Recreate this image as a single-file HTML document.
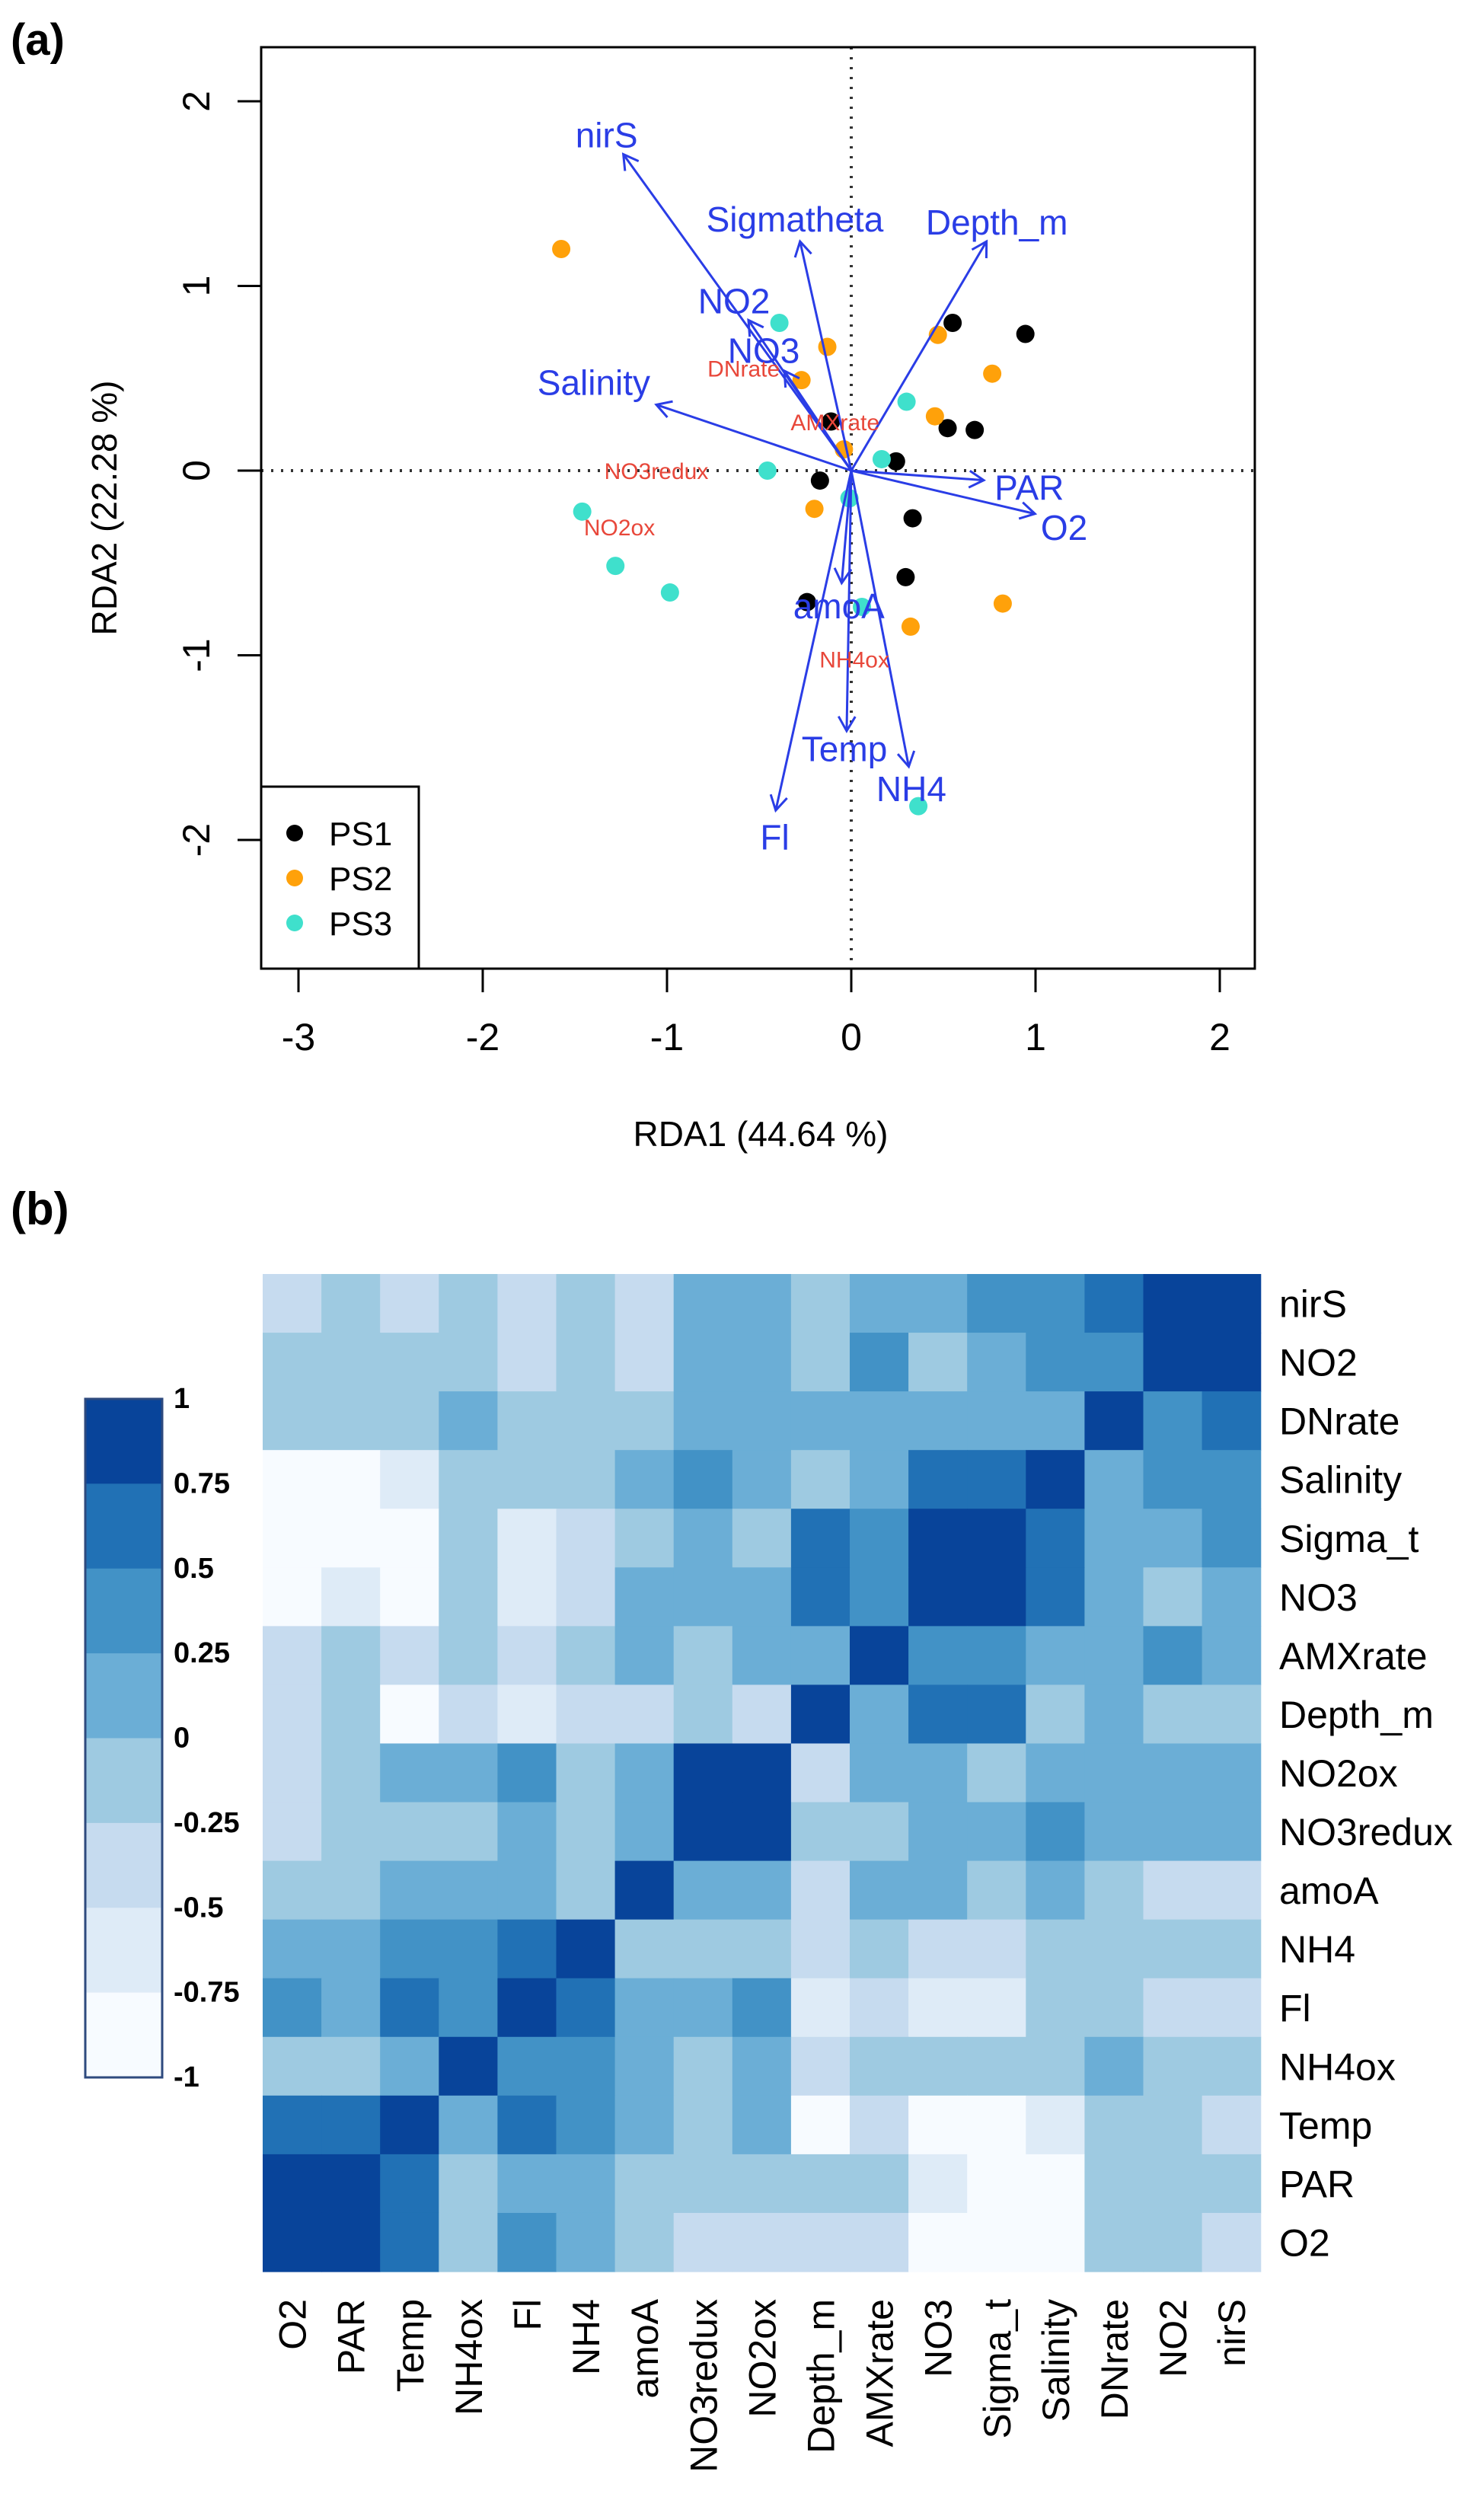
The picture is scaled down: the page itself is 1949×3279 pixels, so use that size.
<!DOCTYPE html>
<html><head><meta charset="utf-8"><title>RDA biplot and correlation heatmap</title>
<style>
html,body{margin:0;padding:0;background:#fff;}
svg{display:block;font-family:"Liberation Sans",Arial,sans-serif;}
</style></head>
<body>
<svg id="fig" xmlns="http://www.w3.org/2000/svg" width="1949" height="3279" viewBox="0 0 1949 3279">
<rect x="0" y="0" width="1949" height="3279" fill="#fff"/>
<text x="14" y="72" font-size="58" font-weight="bold">(a)</text>
<text x="14" y="1608" font-size="60" font-weight="bold">(b)</text>
<g id="rda"></g>
<g id="heat"></g>
</svg>
<script>
// ---------- RDA data ----------
const ps1X = [0.55, 0.945, -0.11, 0.523, 0.67, 0.243, -0.17, 0.333, 0.295, -0.24];
const ps1Y = [0.80, 0.74, 0.266, 0.23, 0.22, 0.05, -0.054, -0.258, -0.577, -0.712];
const ps2X = [-1.574, 0.47, -0.13, -0.27, 0.765, 0.454, -0.04, -0.2, 0.822, 0.322];
const ps2Y = [1.20, 0.735, 0.67, 0.49, 0.525, 0.294, 0.115, -0.207, -0.72, -0.845];
const ps3X = [-0.39, 0.30, 0.165, -0.455, -0.01, -1.46, -1.28, -0.984, 0.058, 0.364];
const ps3Y = [0.80, 0.373, 0.062, 0.0, -0.15, -0.222, -0.516, -0.66, -0.738, -1.817];
const arrowNames = ["nirS","Sigmatheta","Depth_m","NO2","NO3","Salinity","PAR","O2","amoA","Temp","NH4","Fl"];
const arrowX = [-1.237, -0.278, 0.734, -0.558, -0.363, -1.058, 0.719, 0.997, -0.052, -0.025, 0.312, -0.41];
const arrowY = [1.713, 1.241, 1.241, 0.815, 0.54, 0.357, -0.052, -0.234, -0.609, -1.41, -1.603, -1.84];
const labelX = [-1.328, -0.306, 0.79, -0.636, -0.475, -1.397, 0.966, 1.155, -0.067, -0.037, 0.326, -0.415];
const labelY = [1.817, 1.36, 1.345, 0.918, 0.65, 0.476, -0.093, -0.31, -0.734, -1.507, -1.724, -1.986];
const rateNames = ["DNrate","AMXrate","NO3redux","NO2ox","NH4ox"];
const rateX = [-0.584, -0.088, -1.058, -1.258, 0.017];
const rateY = [0.554, 0.264, 0.0, -0.305, -1.02];
const xTicks = [-3,-2,-1,0,1,2];
const yTicks = [-2,-1,0,1,2];

// ---------- heatmap data ----------
const heatVars = ["nirS","NO2","DNrate","Salinity","Sigma_t","NO3","AMXrate","Depth_m","NO2ox","NO3redux","amoA","NH4","Fl","NH4ox","Temp","PAR","O2"];
const heatCols = ["O2","PAR","Temp","NH4ox","Fl","NH4","amoA","NO3redux","NO2ox","Depth_m","AMXrate","NO3","Sigma_t","Salinity","DNrate","NO2","nirS"];
const heatCorr = [
 [-0.4,-0.1,-0.4,-0.1,-0.4,-0.1,-0.4,0.1,0.1,-0.1,0.1,0.1,0.4,0.4,0.6,0.9,1.0],
 [-0.1,-0.1,-0.1,-0.1,-0.4,-0.1,-0.4,0.1,0.1,-0.1,0.4,-0.1,0.1,0.4,0.4,1.0,0.9],
 [-0.1,-0.1,-0.1,0.1,-0.1,-0.1,-0.1,0.1,0.1,0.1,0.1,0.1,0.1,0.1,1.0,0.4,0.6],
 [-0.9,-0.9,-0.6,-0.1,-0.1,-0.1,0.1,0.4,0.1,-0.1,0.1,0.6,0.6,1.0,0.1,0.4,0.4],
 [-0.9,-0.9,-0.9,-0.1,-0.6,-0.4,-0.1,0.1,-0.1,0.6,0.4,0.9,1.0,0.6,0.1,0.1,0.4],
 [-0.9,-0.6,-0.9,-0.1,-0.6,-0.4,0.1,0.1,0.1,0.6,0.4,1.0,0.9,0.6,0.1,-0.1,0.1],
 [-0.4,-0.1,-0.4,-0.1,-0.4,-0.1,0.1,-0.1,0.1,0.1,1.0,0.4,0.4,0.1,0.1,0.4,0.1],
 [-0.4,-0.1,-0.9,-0.4,-0.6,-0.4,-0.4,-0.1,-0.4,1.0,0.1,0.6,0.6,-0.1,0.1,-0.1,-0.1],
 [-0.4,-0.1,0.1,0.1,0.4,-0.1,0.1,0.9,1.0,-0.4,0.1,0.1,-0.1,0.1,0.1,0.1,0.1],
 [-0.4,-0.1,-0.1,-0.1,0.1,-0.1,0.1,1.0,0.9,-0.1,-0.1,0.1,0.1,0.4,0.1,0.1,0.1],
 [-0.1,-0.1,0.1,0.1,0.1,-0.1,1.0,0.1,0.1,-0.4,0.1,0.1,-0.1,0.1,-0.1,-0.4,-0.4],
 [0.1,0.1,0.4,0.4,0.6,1.0,-0.1,-0.1,-0.1,-0.4,-0.1,-0.4,-0.4,-0.1,-0.1,-0.1,-0.1],
 [0.4,0.1,0.6,0.4,1.0,0.6,0.1,0.1,0.4,-0.6,-0.4,-0.6,-0.6,-0.1,-0.1,-0.4,-0.4],
 [-0.1,-0.1,0.1,1.0,0.4,0.4,0.1,-0.1,0.1,-0.4,-0.1,-0.1,-0.1,-0.1,0.1,-0.1,-0.1],
 [0.6,0.6,1.0,0.1,0.6,0.4,0.1,-0.1,0.1,-0.9,-0.4,-0.9,-0.9,-0.6,-0.1,-0.1,-0.4],
 [0.9,1.0,0.6,-0.1,0.1,0.1,-0.1,-0.1,-0.1,-0.1,-0.1,-0.6,-0.9,-0.9,-0.1,-0.1,-0.1],
 [1.0,0.9,0.6,-0.1,0.4,0.1,-0.1,-0.4,-0.4,-0.4,-0.4,-0.9,-0.9,-0.9,-0.1,-0.1,-0.4]
];
const legendBreaks = [1,0.75,0.5,0.25,0,-0.25,-0.5,-0.75,-1];
const legendLabels = ["1","0.75","0.5","0.25","0","-0.25","-0.5","-0.75","-1"];

const NS = "http://www.w3.org/2000/svg";
function mk(parent, tag, attrs, txt){
  const e = document.createElementNS(NS, tag);
  for (const k in attrs) e.setAttribute(k, attrs[k]);
  if (txt !== undefined) e.textContent = txt;
  parent.appendChild(e);
  return e;
}

// ---------- RDA panel ----------
const rda = document.getElementById('rda');
const X0 = 1118, Y0 = 618, UX = 242, UY = 242.5;
const sx = v => X0 + v*UX;
const sy = v => Y0 - v*UY;
const boxL = 343, boxR = 1648, boxT = 62, boxB = 1272;

let e;
e = mk(rda,'line',{x1:sx(0),y1:boxT,x2:sx(0),y2:boxB,stroke:'#333','stroke-width':4,'stroke-dasharray':'3 10'});


e = mk(rda,'line',{x1:boxL,y1:sy(0),x2:boxR,y2:sy(0),stroke:'#333','stroke-width':4,'stroke-dasharray':'3 10'});



const series = [[ps1X,ps1Y,'#000000','ps1'],[ps2X,ps2Y,'#FFA10A','ps2'],[ps3X,ps3Y,'#3FE0CC','ps3']];
series.forEach(s=>{
  s[0].forEach((vx,i)=>{
    const c = mk(rda,'circle',{cx:sx(vx),cy:sy(s[1][i]),r:12,fill:s[2]});
    
    
  });
});

const blue = '#2A3DE6';
arrowX.forEach((ax,i)=>{
  const x2 = sx(ax), y2 = sy(arrowY[i]);
  const g = mk(rda,'g',{});
  
  
  mk(g,'line',{x1:X0,y1:Y0,x2:x2,y2:y2,stroke:blue,'stroke-width':3});
  const ang = Math.atan2(y2-Y0, x2-X0), L = 22, a = Math.PI/6;
  const p1x = x2 - L*Math.cos(ang-a), p1y = y2 - L*Math.sin(ang-a);
  const p2x = x2 - L*Math.cos(ang+a), p2y = y2 - L*Math.sin(ang+a);
  mk(g,'polyline',{points:`${p1x},${p1y} ${x2},${y2} ${p2x},${p2y}`,fill:'none',stroke:blue,'stroke-width':3});
});
labelX.forEach((lx,i)=>{
  const t = mk(rda,'text',{x:sx(lx),y:sy(labelY[i])+16,'font-size':46,fill:blue,'text-anchor':'middle'},arrowNames[i]);
  
  
});
rateX.forEach((rx,i)=>{
  const t = mk(rda,'text',{x:sx(rx),y:sy(rateY[i])+11,'font-size':30,fill:'#E8473A','text-anchor':'middle'},rateNames[i]);
  
  
});

e = mk(rda,'rect',{x:boxL,y:boxT,width:boxR-boxL,height:boxB-boxT,fill:'none',stroke:'#000','stroke-width':3});


xTicks.forEach(v=>{
  const l = mk(rda,'line',{x1:sx(v),y1:boxB,x2:sx(v),y2:boxB+31,stroke:'#000','stroke-width':3});
  
  
  const t = mk(rda,'text',{x:sx(v),y:1379,'font-size':50,'text-anchor':'middle'}, String(v));
  
  
});
yTicks.forEach(v=>{
  const l = mk(rda,'line',{x1:312,y1:sy(v),x2:boxL,y2:sy(v),stroke:'#000','stroke-width':3});
  
  
  const t = mk(rda,'text',{x:0,y:0,'font-size':50,'text-anchor':'middle',transform:`translate(${275},${sy(v)}) rotate(-90)`}, String(v));
  
  
});
e = mk(rda,'text',{x:999,y:1505,'font-size':46,'text-anchor':'middle'},'RDA1 (44.64 %)');


e = mk(rda,'text',{x:0,y:0,'font-size':46,'text-anchor':'middle',transform:'translate(153,667) rotate(-90)'},'RDA2 (22.28 %)');



const lg = mk(rda,'g',{});


mk(lg,'rect',{x:boxL,y:1033,width:207,height:boxB-1033,fill:'#fff',stroke:'#000','stroke-width':3});
const legNames = ['PS1','PS2','PS3'], legCols = ['#000000','#FFA10A','#3FE0CC'];
legNames.forEach((n,i)=>{
  const y = 1094 + i*59;
  const g = mk(lg,'g',{});
  
  
  mk(g,'circle',{cx:387,cy:y,r:11,fill:legCols[i]});
  mk(g,'text',{x:432,y:y+16,'font-size':44},n);
});

// ---------- heatmap ----------
const heat = document.getElementById('heat');
const HL = 345, HT = 1673, CW = 77.1, CH = 77.06;
const pal = ['#F7FBFF','#DEEBF7','#C6DBEF','#9ECAE1','#6BAED6','#4292C6','#2171B5','#08449A'];
function colorOf(v){ let k = Math.floor((v+1)/0.25); if(k<0)k=0; if(k>7)k=7; return pal[k]; }
heatCorr.forEach((row,r)=>{
  row.forEach((v,c)=>{
    const rc = mk(heat,'rect',{x:HL+c*CW,y:HT+r*CH,width:CW+0.6,height:CH+0.6,fill:colorOf(v)});
    
    
  });
});
heatVars.forEach((n,r)=>{
  const t = mk(heat,'text',{x:1680,y:HT+(r+0.5)*CH+18,'font-size':50},n);
  
  
});
heatCols.forEach((n,c)=>{
  const cx = HL+(c+0.5)*CW+18;
  const t = mk(heat,'text',{x:0,y:0,'font-size':50,'text-anchor':'end',transform:`translate(${cx},3019) rotate(-90)`},n);
  
  
});
const cb = mk(heat,'g',{});


const cbT = 1837, cbB = 2728, cbL = 112, cbR = 213;
const binH = (cbB-cbT)/(legendBreaks.length-1);
for (let i=0;i<legendBreaks.length-1;i++){
  const mid = (legendBreaks[i]+legendBreaks[i+1])/2;
  mk(cb,'rect',{x:cbL,y:cbT+i*binH,width:cbR-cbL,height:binH+0.5,fill:colorOf(mid)});
}
mk(cb,'rect',{x:cbL,y:cbT,width:cbR-cbL,height:cbB-cbT,fill:'none',stroke:'#2E4A7E','stroke-width':3});
legendLabels.forEach((lab,i)=>{
  const t = mk(cb,'text',{x:228,y:cbT+i*binH+12,'font-size':38,'font-weight':'bold'},lab);
  
  
});
</script>
</body></html>
